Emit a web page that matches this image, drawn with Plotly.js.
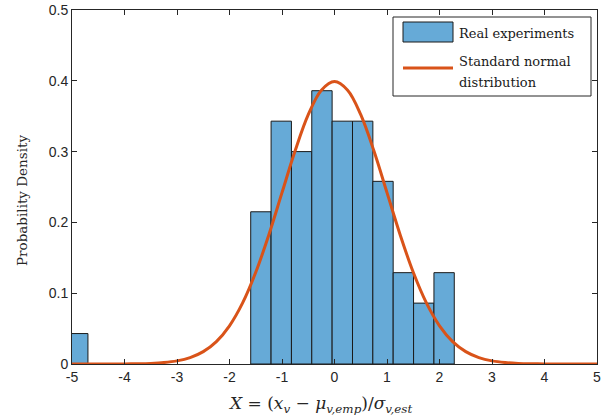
<!DOCTYPE html>
<html>
<head>
<meta charset="utf-8">
<script src="https://cdn.plot.ly/plotly-3.0.1.min.js"></script>
<style>html,body{margin:0;padding:0;background:#fff}#chart{width:616px;height:417px}</style>
</head>
<body>
<div id="chart"></div>
<script>
// Histogram bins (left edges) and heights (probability density)
const binLeftEdges = [-5.084, -1.596, -1.208, -0.820, -0.433, -0.045, 0.343, 0.730, 1.118, 1.506, 1.894];
const binWidth = 0.3876;
const densities = [0.043, 0.215, 0.343, 0.300, 0.386, 0.343, 0.343, 0.258, 0.129, 0.086, 0.129];

// Standard normal curve samples
const curveX = [-5,-4.75,-4.5,-4.25,-4,-3.75,-3.5,-3.25,-3,-2.75,-2.5,-2.25,-2,-1.75,-1.5,-1.25,-1,-0.75,-0.5,-0.25,0,
  0.25,0.5,0.75,1,1.25,1.5,1.75,2,2.25,2.5,2.75,3,3.25,3.5,3.75,4,4.25,4.5,4.75,5];
const curveY = [0.0000015,0.000005,0.000016,0.000048,0.000134,0.000353,0.000873,0.00203,0.00443,0.00909,0.0175,0.0317,0.0540,0.0863,0.1295,0.1826,0.2420,0.3011,0.3521,0.3867,0.3989,
  0.3867,0.3521,0.3011,0.2420,0.1826,0.1295,0.0863,0.0540,0.0317,0.0175,0.00909,0.00443,0.00203,0.000873,0.000353,0.000134,0.000048,0.000016,0.000005,0.0000015];

const xTicks = [-5,-4,-3,-2,-1,0,1,2,3,4,5];
const xTickText = ['-5','-4','-3','-2','-1','0','1','2','3','4','5'];
const yTicks = [0,0.1,0.2,0.3,0.4,0.5];
const yTickText = ['0','0.1','0.2','0.3','0.4','0.5'];

const seriesNames = ['Real experiments', 'Standard normal', 'distribution'];
const xTitle = '<i>X</i> = (<i>x</i><sub><i>v</i></sub> − <i>μ</i><sub><i>v,emp</i></sub>)/<i>σ</i><sub><i>v,est</i></sub>';
const yTitle = 'Probability Density';

const barColor = 'rgb(102,170,215)';
const lineColor = 'rgb(217,83,25)';
const ink = '#262626';
const serif = 'DejaVu Serif, Liberation Serif, serif';

// pixel -> paper helpers (plot area 72..597 x, 10..364 y)
const L = 72, R = 19, T = 10, B = 53, W = 616, H = 417;
const pw = W - L - R, ph = H - T - B;
const px = v => (v - L) / pw;
const py = v => (H - B - v) / ph;

const barCenters = binLeftEdges.map(e => e + binWidth/2);

const traces = [
  {
    type: 'bar',
    x: barCenters,
    y: densities,
    width: binLeftEdges.map(() => binWidth),
    name: seriesNames[0],
    marker: {color: barColor, line: {color: '#1a1a1a', width: 1}},
    hoverinfo: 'skip',
    showlegend: false
  },
  {
    type: 'scatter',
    mode: 'lines',
    x: curveX,
    y: curveY,
    name: seriesNames[1] + ' ' + seriesNames[2],
    line: {color: lineColor, width: 3, shape: 'spline', smoothing: 1},
    hoverinfo: 'skip',
    showlegend: false
  }
];

const axisCommon = {
  showgrid: false,
  zeroline: false,
  showline: true,
  linecolor: ink,
  linewidth: 1,
  mirror: 'ticks',
  ticks: 'inside',
  ticklen: 5,
  tickcolor: ink,
  tickfont: {family: 'Liberation Sans, Arial, sans-serif', size: 14, color: ink}
};

const shapes = [
  // legend box
  {type: 'rect', xref: 'paper', yref: 'paper', x0: px(393), x1: px(591), y0: py(96), y1: py(17),
   fillcolor: '#fff', line: {color: ink, width: 1}},
  // bar symbol
  {type: 'rect', xref: 'paper', yref: 'paper', x0: px(403), x1: px(453), y0: py(42), y1: py(22),
   fillcolor: barColor, line: {color: '#1a1a1a', width: 1}},
  // line symbol
  {type: 'line', xref: 'paper', yref: 'paper', x0: px(403), x1: px(453), y0: py(68), y1: py(68),
   line: {color: lineColor, width: 3}}
];

const textFont = {family: serif, size: 13, color: '#1a1a1a'};
const annotations = [
  {xref: 'paper', yref: 'paper', x: px(457), y: py(33), xanchor: 'left', yanchor: 'middle',
   text: seriesNames[0], showarrow: false, font: textFont},
  {xref: 'paper', yref: 'paper', x: px(457), y: py(62), xanchor: 'left', yanchor: 'middle',
   text: seriesNames[1], showarrow: false, font: textFont},
  {xref: 'paper', yref: 'paper', x: px(457), y: py(82), xanchor: 'left', yanchor: 'middle',
   text: seriesNames[2], showarrow: false, font: textFont},
  {xref: 'paper', yref: 'paper', x: px(320), y: py(404), xanchor: 'center', yanchor: 'middle',
   text: xTitle, showarrow: false, font: {family: serif, size: 17, color: ink}},
  {xref: 'paper', yref: 'paper', x: px(22), y: py(201), xanchor: 'center', yanchor: 'middle',
   text: yTitle, textangle: -90, showarrow: false, font: {family: serif, size: 13.5, color: ink}}
];

const layout = {
  width: W,
  height: H,
  margin: {l: L, r: R, t: T, b: B},
  paper_bgcolor: '#fff',
  plot_bgcolor: '#fff',
  bargap: 0,
  showlegend: false,
  xaxis: Object.assign({}, axisCommon, {range: [-5, 5], tickvals: xTicks, ticktext: xTickText}),
  yaxis: Object.assign({}, axisCommon, {range: [0, 0.5], tickvals: yTicks, ticktext: yTickText}),
  shapes: shapes,
  annotations: annotations
};

Plotly.newPlot('chart', traces, layout, {displayModeBar: false, staticPlot: true});
</script>
</body>
</html>
